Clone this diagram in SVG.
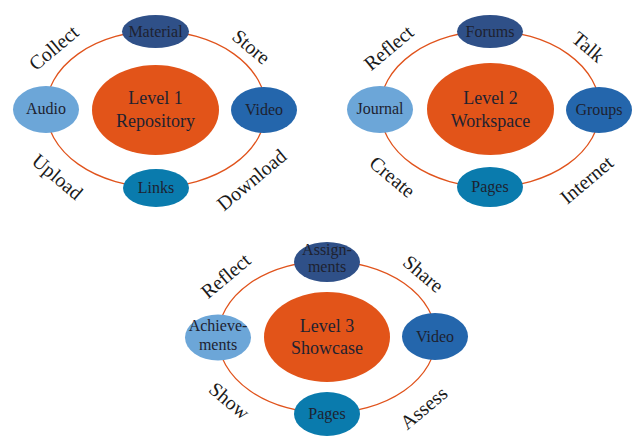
<svg xmlns="http://www.w3.org/2000/svg" width="635" height="436" viewBox="0 0 635 436">
<style>
.ring{fill:none;stroke:#e0531c;stroke-width:1.3}
.t{font-family:"Liberation Serif","DejaVu Serif",serif;fill:#1e2230;text-anchor:middle}
.n{font-size:16px}
.c{font-size:18px}
.l{font-family:"Liberation Serif","DejaVu Serif",serif;fill:#1a1a1a;text-anchor:middle;font-size:20px}
.dk{fill:#2f5088}.lt{fill:#6ca6d8}.md{fill:#2466ac}.tl{fill:#0a7bad}.or{fill:#e25419}
</style>
<g id="connectors">
<ellipse class="ring" cx="156" cy="109" rx="110" ry="78"/>
<ellipse class="ring" cx="490" cy="109" rx="110" ry="78"/>
<ellipse class="ring" cx="327" cy="337" rx="109" ry="76"/>
</g>
<!-- Cluster 1 -->
<g id="level1"><ellipse class="or" cx="155.5" cy="110" rx="63.5" ry="45"/><text class="t c" x="155.5" y="104">Level 1</text><text class="t c" x="155.5" y="127">Repository</text></g>
<g id="material"><ellipse class="dk" cx="155.5" cy="31.5" rx="33.5" ry="16.5"/><text class="t n" x="155.5" y="36.5">Material</text></g>
<g id="audio"><ellipse class="lt" cx="46" cy="109.5" rx="33" ry="23.5"/><text class="t n" x="46" y="114">Audio</text></g>
<g id="video1"><ellipse class="md" cx="264" cy="110" rx="33" ry="23"/><text class="t n" x="264" y="114.5">Video</text></g>
<g id="links"><ellipse class="tl" cx="156" cy="188" rx="33" ry="19"/><text class="t n" x="156" y="192.5">Links</text></g>
<g id="labels1">
<text class="l" transform="translate(58,53) rotate(-40)">Collect</text>
<text class="l" transform="translate(247,52) rotate(40)">Store</text>
<text class="l" transform="translate(53,182) rotate(40)">Upload</text>
<text class="l" transform="translate(256,185) rotate(-40)">Download</text>
</g>
<!-- Cluster 2 -->
<g id="level2"><ellipse class="or" cx="490.5" cy="109" rx="63.5" ry="46"/><text class="t c" x="490.5" y="104">Level 2</text><text class="t c" x="490.5" y="127">Workspace</text></g>
<g id="forums"><ellipse class="dk" cx="490" cy="31.5" rx="33" ry="16.5"/><text class="t n" x="490" y="36.5">Forums</text></g>
<g id="journal"><ellipse class="lt" cx="380" cy="109.5" rx="33" ry="23.5"/><text class="t n" x="380" y="114">Journal</text></g>
<g id="groups"><ellipse class="md" cx="599" cy="110" rx="33" ry="23"/><text class="t n" x="599" y="114.5">Groups</text></g>
<g id="pages2"><ellipse class="tl" cx="490" cy="187" rx="33" ry="20"/><text class="t n" x="490" y="191.5">Pages</text></g>
<g id="labels2">
<text class="l" transform="translate(393,53) rotate(-40)">Reflect</text>
<text class="l" transform="translate(584,52) rotate(40)">Talk</text>
<text class="l" transform="translate(388,182) rotate(40)">Create</text>
<text class="l" transform="translate(591,185) rotate(-40)">Internet</text>
</g>
<!-- Cluster 3 -->
<g id="level3"><ellipse class="or" cx="327" cy="337" rx="63" ry="45"/><text class="t c" x="327" y="332">Level 3</text><text class="t c" x="327" y="354">Showcase</text></g>
<g id="assignments"><ellipse class="dk" cx="327" cy="262" rx="33" ry="20"/><text class="t n" x="327" y="255">Assign-</text><text class="t n" x="327" y="272">ments</text></g>
<g id="achievements"><ellipse class="lt" cx="218" cy="337.5" rx="33" ry="23"/><text class="t n" x="218" y="331">Achieve-</text><text class="t n" x="218" y="350">ments</text></g>
<g id="video3"><ellipse class="md" cx="435" cy="336.5" rx="33" ry="23.5"/><text class="t n" x="435" y="341.5">Video</text></g>
<g id="pages3"><ellipse class="tl" cx="327" cy="414" rx="33" ry="22"/><text class="t n" x="327" y="418.5">Pages</text></g>
<g id="labels3">
<text class="l" transform="translate(230,281) rotate(-40)">Reflect</text>
<text class="l" transform="translate(419,279) rotate(40)">Share</text>
<text class="l" transform="translate(225,406) rotate(40)">Show</text>
<text class="l" transform="translate(428,413) rotate(-40)">Assess</text>
</g>
</svg>
